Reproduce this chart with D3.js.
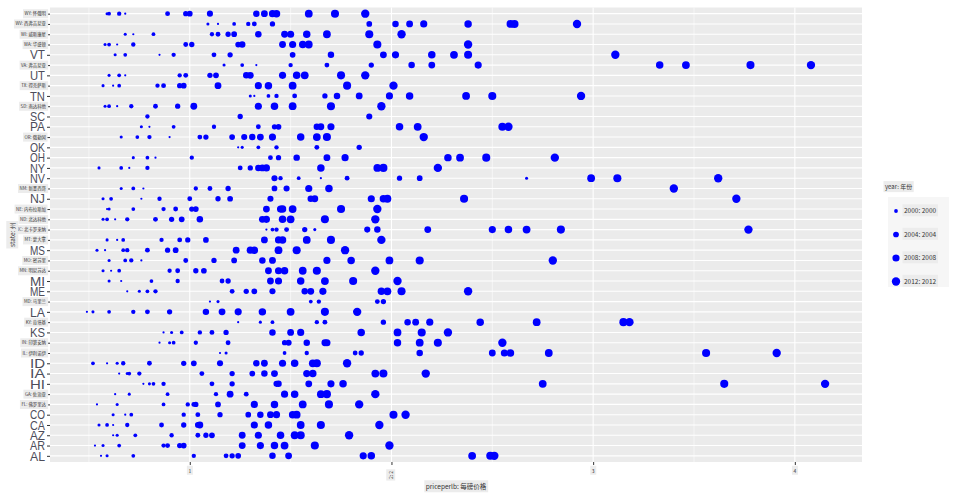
<!DOCTYPE html>
<meta charset="utf-8">
<style>
body {
  margin: 0;
  background: #fff;
  font-family: "Liberation Sans", Arial, sans-serif;
}
.dot {
  fill: #0000ff;
}
.tag {
  fill: #333;
  font-family: "Noto Sans CJK SC", "Liberation Sans", sans-serif;
}
</style>
<body>
<script src="https://cdn.jsdelivr.net/npm/d3@7/dist/d3.min.js"></script>
<script>

var width = 960,
    height = 504;

var margin = {top: 7.5, right: 98, bottom: 42, left: 50};

var states = ["AL","AR","AZ","CA","CO","FL","GA","HI","IA","ID","IL","IN","KS","KY","LA",
  "MD","ME","MI","MN","MO","MS","MT","NC","ND","NE","NJ","NM","NV","NY","OH","OK","OR",
  "PA","SC","SD","TN","TX","UT","VA","VT","WA","WI","WV","WY"];

// labels drawn big on the y axis, the rest come out tiny
var bigLabels = ["AL","AR","AZ","CA","CO","HI","IA","ID","KS","LA","ME","MI","MS","NJ",
  "NV","NY","OH","OK","PA","SC","TN","UT","VT"];
var smallStates = ["FL","GA","IL","IN","KY","MD","MN","MO","MT","NC","ND","NE","NM","OR",
  "SD","TX","VA","WA","WI","WV","WY"];
var smallNames = ["佛罗里达","佐治亚","伊利诺伊","印第安纳","肯塔基","马里兰","明尼苏达","密苏里",
  "蒙大拿","北卡罗来纳","北达科他","内布拉斯加","新墨西哥","俄勒冈","南达科他","得克萨斯",
  "弗吉尼亚","华盛顿","威斯康星","西弗吉尼亚","怀俄明"];

var years = [1998,1999,2000,2001,2002,2003,2004,2005,2006,2007,2008,2009,2010,2011,2012];
var legendYears = [2000, 2004, 2008, 2012];
var xTicks = [1, 2, 3, 4];
var xMinor = [0.5, 1.5, 2.5, 3.5];

// price per lb, one slot per year (null = no record)
var price_AL = [0.56,0.59,0.72,1.02,1.18,1.21,1.24,null,1.41,1.49,1.86,1.90,2.40,2.49,2.51];
var price_AR = [0.53,0.57,0.65,0.87,0.89,0.95,0.97,null,null,1.26,1.35,1.42,1.47,1.62,1.99];
var price_AZ = [0.62,0.64,0.73,0.91,1.04,1.08,1.11,null,null,1.26,1.34,1.45,1.52,1.55,1.79];
var price_CA = [0.62,0.55,0.59,0.69,0.86,0.97,1.04,null,null,1.05,1.32,1.39,1.55,1.65,1.94];
var price_CO = [0.68,0.62,0.71,0.97,1.04,1.15,1.29,null,1.35,1.40,1.43,1.51,1.53,2.01,2.07];
var price_FL = [0.54,0.64,0.87,0.99,1.02,1.03,1.14,null,null,null,1.32,1.42,1.56,1.69,1.84];
var price_GA = [0.63,0.70,0.89,1.13,1.28,null,null,null,null,1.20,1.47,1.52,1.65,1.68,1.92];
var price_HI = [0.77,0.80,0.82,0.87,1.11,1.21,null,1.43,1.44,1.59,1.70,1.76,2.75,3.65,4.15];
var price_IA = [0.65,0.69,0.70,0.75,1.06,1.21,1.31,null,1.37,1.42,1.58,1.61,1.92,1.96,2.17];
var price_ID = [0.59,0.64,0.52,0.67,0.80,0.97,1.02,1.15,1.33,1.37,1.46,1.52,1.61,1.63,1.78];
var price_IL = [1.15,1.18,1.47,1.58,1.82,1.85,null,null,2.14,2.50,2.56,2.59,2.78,3.56,3.91];
var price_IN = [0.85,0.90,0.92,1.03,1.19,1.47,null,1.49,1.58,1.67,1.68,2.03,2.14,2.23,2.55];
var price_KS = [0.87,0.91,0.96,1.05,1.11,1.18,null,null,1.41,1.50,1.55,1.85,2.03,2.15,2.28];
var price_KY = [1.24,1.35,1.41,1.63,1.67,1.96,null,null,2.08,2.12,2.19,2.44,2.72,3.15,3.18];
var price_LA = [0.49,0.52,0.60,0.72,0.79,0.90,null,null,1.08,1.16,1.24,1.36,1.50,1.67,1.83];
var price_MD = [1.10,1.14,1.60,1.64,1.93,1.96,null,null,null,null,null,null,null,null,null];
var price_ME = [0.69,0.75,0.79,0.83,1.21,1.28,1.32,1.41,1.57,1.60,1.66,1.95,1.98,2.05,2.38];
var price_MI = [0.66,0.60,0.81,0.94,1.16,1.19,null,null,null,1.40,1.44,1.55,1.67,1.81,2.03];
var price_MN = [0.61,0.57,0.65,0.90,0.94,1.03,1.07,null,null,1.39,1.44,1.47,1.56,1.63,1.92];
var price_MO = [0.76,0.60,0.68,0.71,0.98,1.12,1.22,null,1.36,1.41,1.68,1.80,1.99,2.14,2.80];
var price_MS = [0.58,0.54,0.67,0.69,0.79,0.89,0.93,null,null,1.23,1.30,1.32,1.44,1.53,1.77];
var price_MT = [0.64,0.59,0.67,0.86,0.95,0.99,1.08,null,null,1.37,1.44,1.46,1.58,1.70,1.95];
var price_NC = [1.38,1.62,1.41,1.43,1.48,1.57,null,1.88,1.93,2.18,2.50,2.58,2.67,2.84,3.77];
var price_ND = [0.63,0.57,0.59,0.69,0.83,0.91,0.96,null,1.05,1.36,1.38,1.46,1.50,1.67,1.92];
var price_NE = [0.59,0.60,0.72,0.87,0.93,1.01,1.03,null,null,1.38,1.45,1.46,1.51,1.75,1.93];
var price_NJ = [0.76,0.57,0.61,0.85,1.00,1.14,1.20,1.40,1.60,1.62,1.90,1.96,1.98,2.36,3.71];
var price_NM = [0.77,0.66,0.72,1.03,1.10,1.19,1.42,1.48,null,null,1.59,1.69,null,null,3.40];
var price_NV = [1.65,2.67,1.54,1.45,1.78,2.04,2.14,1.42,null,null,null,null,2.99,3.12,3.62];
var price_NY = [0.70,0.55,0.66,0.79,1.25,1.30,null,null,1.34,1.36,1.38,1.65,1.93,1.96,2.23];
var price_OH = [0.83,0.72,0.79,1.01,1.40,1.44,null,null,1.53,1.68,1.77,2.28,2.34,2.47,2.81];
var price_OK = [1.24,1.26,1.34,1.43,1.63,1.84,null,null,null,null,null,null,null,null,null];
var price_OR = [0.90,0.66,0.74,0.80,1.05,1.08,1.21,1.27,1.31,1.35,1.41,1.55,1.63,1.68,2.16];
var price_PA = [0.80,0.76,0.92,1.12,1.34,1.42,1.44,null,1.63,1.65,1.70,2.04,2.13,2.55,2.58];
var price_SC = [null,null,null,0.79,null,1.25,null,1.89,null,null,null,null,null,null,null];
var price_SD = [0.64,0.58,0.60,0.71,0.83,0.94,null,null,null,1.02,1.34,1.42,1.51,1.70,1.95];
var price_TN = [1.32,1.30,1.39,1.43,1.52,1.67,null,null,1.73,1.84,1.99,2.09,2.37,2.50,2.94];
var price_TX = [0.62,0.57,0.65,0.84,0.87,0.95,0.97,null,null,1.14,1.34,1.39,1.51,1.78,2.01];
var price_UT = [0.68,0.60,0.65,0.95,0.98,1.10,1.13,null,1.28,1.30,1.46,1.53,1.57,1.75,1.87];
var price_VA = [1.33,1.17,1.26,1.50,1.68,1.90,null,null,2.10,2.20,2.43,3.33,3.46,3.78,4.08];
var price_VT = [0.85,0.63,0.68,0.92,1.12,1.20,1.51,null,1.70,1.96,2.02,2.20,2.31,2.38,3.11];
var price_WA = [0.64,0.58,0.60,0.72,0.98,1.01,1.24,null,1.26,1.46,1.51,1.56,1.59,1.93,2.38];
var price_WI = [0.72,0.68,0.82,1.11,1.14,1.19,1.22,null,1.34,1.47,1.50,1.58,1.68,1.89,2.05];
var price_WV = [1.14,1.09,1.22,1.29,1.32,1.41,1.89,null,2.02,2.09,2.16,2.38,2.59,2.61,2.92];
var price_WY = [0.68,0.59,0.60,0.65,0.89,0.98,1.00,1.10,1.33,1.37,1.41,1.43,1.59,1.72,1.87];

var data = [];
states.forEach(function(s) {
  window["price_" + s].forEach(function(v, i) {
    if (v != null) data.push({state: s, year: years[i], price: v});
  });
});

var ext = d3.extent(data, function(d) { return d.price; }),
    pad = (ext[1] - ext[0]) * 0.05;

var x = d3.scaleLinear()
    .domain([ext[0] - pad, ext[1] + pad])
    .range([margin.left, width - margin.right]);

var y = d3.scalePoint()
    .domain(states)
    .range([height - margin.bottom, margin.top])
    .padding(0.6);

// size ~ area, like ggplot's scale_size
var area = d3.scaleLinear().domain([1998, 2012]).range([1.2, 17.5]);
function radius(yr) { return Math.sqrt(area(yr)); }

var svg = d3.select("body").append("svg")
    .attr("width", width)
    .attr("height", height);

// panel
svg.append("rect")
    .attr("x", margin.left)
    .attr("y", margin.top)
    .attr("width", width - margin.left - margin.right)
    .attr("height", height - margin.top - margin.bottom)
    .attr("fill", "#ebebeb");

var grid = svg.append("g").attr("stroke", "#fff");

grid.selectAll(".minor").data(xMinor).enter().append("line")
    .attr("x1", x).attr("x2", x)
    .attr("y1", margin.top).attr("y2", height - margin.bottom)
    .attr("stroke-width", 0.55);

grid.selectAll(".vmajor").data(xTicks).enter().append("line")
    .attr("x1", x).attr("x2", x)
    .attr("y1", margin.top).attr("y2", height - margin.bottom)
    .attr("stroke-width", 1.1);

grid.selectAll(".hmajor").data(states).enter().append("line")
    .attr("x1", margin.left).attr("x2", width - margin.right)
    .attr("y1", y).attr("y2", y)
    .attr("stroke-width", 1.1);

svg.append("g").selectAll("circle")
    .data(data)
  .enter().append("circle")
    .attr("class", "dot")
    .attr("cx", function(d) { return x(d.price); })
    .attr("cy", function(d) { return y(d.state); })
    .attr("r", function(d) { return radius(d.year); });

// axes
svg.append("g")
    .attr("transform", "translate(" + margin.left + ",0)")
    .call(d3.axisLeft(y).tickSize(3).tickFormat(""));
svg.append("g")
    .attr("transform", "translate(0," + (height - margin.bottom) + ")")
    .call(d3.axisBottom(x).tickValues(xTicks).tickSize(3).tickFormat(""));
svg.selectAll(".domain").remove();
svg.selectAll(".tick line").attr("stroke", "#333").attr("stroke-width", 1);

// text with a pale box behind it
function tag(g, tx, ty, text, size, anchor, rotate) {
  var t = g.append("g")
      .attr("transform", "translate(" + tx + "," + ty + ")" + (rotate ? " rotate(" + rotate + ")" : ""));
  var rect = t.append("rect").attr("fill", "#ececec");
  var label = t.append("text")
      .attr("class", "tag")
      .attr("font-size", size)
      .attr("text-anchor", anchor || "start")
      .attr("dy", "0.35em")
      .text(text);
  var b = label.node().getBBox();
  rect.attr("x", b.x - 1.5).attr("y", b.y - 1).attr("width", b.width + 3).attr("height", b.height + 2);
  return t;
}

var labels = svg.append("g");

bigLabels.forEach(function(s) {
  labels.append("text")
      .attr("x", margin.left - 5)
      .attr("y", y(s))
      .attr("dy", "0.36em")
      .attr("text-anchor", "end")
      .attr("fill", "#4d4d5a")
      .attr("font-size", 13)
      .attr("textLength", 15)
      .attr("lengthAdjust", "spacingAndGlyphs")
      .text(s);
});

smallStates.forEach(function(s, i) {
  tag(labels, margin.left - 4, y(s), s + ": " + smallNames[i], 4.4, "end");
});

// x tick labels
xTicks.forEach(function(v) {
  if (v === 2) tag(svg, x(v), height - margin.bottom + 9, v + ": " + v, 5, "end", -90);
  else tag(svg, x(v), height - margin.bottom + 9, v + "", 5, "middle");
});

// axis titles
tag(svg, (margin.left + width - margin.right) / 2, 487, "priceperlb: 每磅价格", 6.5, "middle");
tag(svg, 13, (margin.top + height - margin.bottom) / 2, "state: 州", 6.5, "middle", -90);

// legend
var legend = svg.append("g");
legend.append("rect")
    .attr("x", 888).attr("y", 197)
    .attr("width", 61).attr("height", 90)
    .attr("fill", "#f6f6f6");
tag(legend, 885, 187, "year: 年份", 6, "start");

legendYears.forEach(function(yr, i) {
  var ky = 211 + i * 23.5;
  legend.append("circle")
      .attr("class", "dot")
      .attr("cx", 896)
      .attr("cy", ky)
      .attr("r", radius(yr));
  tag(legend, 904, ky, yr + ": " + yr, 6.5, "start");
});

</script>
